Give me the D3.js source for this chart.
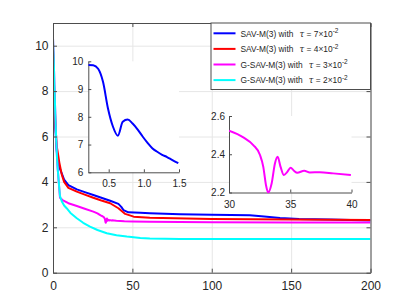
<!DOCTYPE html>
<html lang="en">
<head>
<meta charset="utf-8">
<title>Energy decay</title>
<script src="https://cdn.jsdelivr.net/npm/d3@7"></script>
<style>
  body { margin: 0; background: #fff; }
  svg { display: block; font-family: "Liberation Sans", Arial, sans-serif; }
  .tick text { fill: #262626; }
  .grid line { stroke: #e6e6e6; stroke-width: 1; }
  .grid path { display: none; }
</style>
</head>
<body>
<script>
// main plot: energy vs time
var blueT = [0, 0.5, 0.7, 1, 1.5, 2.3, 3, 4, 5.5, 7, 9.7, 15, 20, 25.4, 30, 36, 41.2, 43, 44.4, 47.5, 55, 61, 80, 100, 124, 133, 143, 155, 175, 200];
var blueE = [9.87, 8.2, 7.85, 7.3, 6.35, 5.4, 5.0, 4.65, 4.38, 4.1, 3.86, 3.67, 3.55, 3.42, 3.31, 3.17, 3.03, 2.9, 2.76, 2.66, 2.64, 2.62, 2.58, 2.55, 2.53, 2.48, 2.41, 2.37, 2.34, 2.30];

var redT = [0, 0.5, 1, 1.5, 2.3, 3, 4, 5.5, 7, 9.7, 15, 20, 25.4, 30, 36, 41.2, 45.5, 50.8, 61, 100, 150, 200];
var redE = [9.9, 8.6, 7.5, 6.6, 5.6, 5.3, 4.85, 4.33, 4.0, 3.74, 3.57, 3.44, 3.30, 3.19, 3.06, 2.84, 2.59, 2.47, 2.42, 2.37, 2.34, 2.32];

var magT = [0, 0.5, 1, 1.5, 2, 2.5, 3, 3.5, 4.4, 6, 9.7, 15, 20, 25.4, 28, 45, 50, 61, 80, 100, 150, 200];
var magE = [10.35, 9.3, 8.0, 6.9, 5.9, 5.1, 4.55, 4.1, 3.3, 3.2, 3.06, 2.94, 2.82, 2.69, 2.61, 2.27, 2.26, 2.24, 2.23, 2.22, 2.215, 2.21];

var cyanT = [0, 0.5, 1, 1.5, 2, 2.5, 3, 3.5, 4.4, 5.5, 7, 8.6, 11, 15, 19, 23.3, 28, 33.9, 40, 46.5, 55, 61, 80, 100, 200];
var cyanE = [10.35, 9.3, 8.0, 6.9, 5.9, 5.1, 4.55, 4.1, 3.38, 3.15, 2.96, 2.84, 2.63, 2.40, 2.2, 2.03, 1.88, 1.74, 1.65, 1.59, 1.53, 1.51, 1.49, 1.48, 1.48];

// inset 1: blue, early times
var in1T = [0.21, 0.28, 0.35, 0.42, 0.49, 0.56, 0.63, 0.70, 0.77, 0.84, 0.91, 0.98, 1.05, 1.12, 1.19, 1.26, 1.33, 1.40, 1.49];
var in1E = [9.87, 9.86, 9.73, 9.25, 8.3, 7.65, 7.32, 7.82, 7.9, 7.76, 7.55, 7.30, 7.07, 6.87, 6.74, 6.63, 6.55, 6.45, 6.33];

// inset 2: magenta, t in [30, 40]
var in2T = [30, 31.17, 31.98, 32.53, 32.8, 33.02, 33.2, 33.48, 33.75, 33.97, 34.21, 34.48, 34.76, 35.03, 35.3, 35.57, 36.14, 36.6, 37.42, 38.5, 39.95];
var in2E = [2.523, 2.488, 2.448, 2.396, 2.334, 2.238, 2.2, 2.247, 2.352, 2.387, 2.334, 2.291, 2.308, 2.329, 2.314, 2.303, 2.314, 2.305, 2.306, 2.3, 2.291];

var legendLabels = [
  {pre: "SAV-M(3) with", num: "7"},
  {pre: "SAV-M(3) with", num: "4"},
  {pre: "G-SAV-M(3) with", num: "3"},
  {pre: "G-SAV-M(3) with", num: "2"}
];
var colors = ["#0000ff", "#ff0000", "#ff00ff", "#00ffff"];

var mainTicksX = [0, 50, 100, 150, 200];
var mainTicksY = [0, 2, 4, 6, 8, 10];
var in1TicksX = [0.5, 1, 1.5];
var in1TicksY = [6, 7, 8, 9, 10];
var in2TicksX = [30, 35, 40];
var in2TicksY = [2.2, 2.4, 2.6];

function zip(a, b) { return a.map(function(d, i) { return [d, b[i]]; }); }

// magenta in main plot = outer pieces + inset piece
var magMain = zip(magT, magE).concat(zip(in2T, in2E)).sort(function(a, b) { return a[0] - b[0]; });

var svg = d3.select("body").append("svg").attr("width", 409).attr("height", 307);

var L = 53, R = 370.5, T = 23, B = 272.7;
var x = d3.scaleLinear().domain([0, 200]).range([L, R]);
var y = d3.scaleLinear().domain([0, 11]).range([B, T]);

// grid
svg.append("g").attr("class", "grid").attr("transform", "translate(0," + B + ")")
  .call(d3.axisBottom(x).tickValues(mainTicksX).tickSize(-(B - T)).tickFormat(""));
svg.append("g").attr("class", "grid").attr("transform", "translate(" + L + ",0)")
  .call(d3.axisLeft(y).tickValues(mainTicksY).tickSize(-(R - L)).tickFormat(""));

svg.append("defs").append("clipPath").attr("id", "clipMain")
  .append("rect").attr("x", L).attr("y", T).attr("width", R - L).attr("height", B - T);

var line = d3.line().x(function(d) { return x(d[0]); }).y(function(d) { return y(d[1]); });
var series = [zip(blueT, blueE), zip(redT, redE), magMain, zip(cyanT, cyanE)];
var gl = svg.append("g").attr("clip-path", "url(#clipMain)");
series.forEach(function(s, i) {
  gl.append("path").datum(s).attr("d", line)
    .attr("fill", "none").attr("stroke", colors[i]).attr("stroke-width", 2)
    .attr("stroke-linejoin", "round");
});

// axes, ticks inward, box on
var axCol = "#4d4d4d";
function styleAxis(g, fs) {
  g.select(".domain").attr("stroke", axCol);
  g.selectAll(".tick line").attr("stroke", axCol);
  g.selectAll(".tick text").attr("font-size", fs);
}
svg.append("g").attr("transform", "translate(0," + B + ")")
  .call(d3.axisBottom(x).tickValues(mainTicksX).tickSizeInner(-4).tickSizeOuter(0).tickPadding(9))
  .call(styleAxis, 12);
svg.append("g").attr("transform", "translate(" + L + ",0)")
  .call(d3.axisLeft(y).tickValues(mainTicksY).tickSizeInner(-4).tickSizeOuter(0).tickPadding(4.5))
  .call(styleAxis, 12);
svg.append("g").attr("transform", "translate(0," + T + ")")
  .call(d3.axisTop(x).tickValues(mainTicksX).tickSizeInner(-4).tickSizeOuter(0).tickFormat(""))
  .call(styleAxis, 12);
svg.append("g").attr("transform", "translate(" + R + ",0)")
  .call(d3.axisRight(y).tickValues(mainTicksY).tickSizeInner(-4).tickSizeOuter(0).tickFormat(""))
  .call(styleAxis, 12);

// legend
var leg = svg.append("g");
leg.append("rect").attr("x", 211).attr("y", T).attr("width", R - 211).attr("height", 66.5)
  .attr("fill", "#fff").attr("stroke", axCol).attr("stroke-width", 1);
legendLabels.forEach(function(d, i) {
  var cy = 33.3 + i * 15.6;
  leg.append("line").attr("x1", 213.5).attr("x2", 235.5).attr("y1", cy).attr("y2", cy)
    .attr("stroke", colors[i]).attr("stroke-width", 2);
  var t = leg.append("text").attr("x", 240.5).attr("y", cy + 3.2)
    .attr("font-size", 8.4).attr("fill", "#262626");
  t.append("tspan").text(d.pre);
  t.append("tspan").attr("dx", 6).attr("font-style", "italic")
    .attr("font-family", "'DejaVu Serif', serif").text("\u03c4");
  t.append("tspan").attr("dx", 2.5).text("= " + d.num + "\u00d710");
  t.append("tspan").attr("dy", -3.5).attr("font-size", 6.5).text("-2");
});

// insets
function inset(cfg) {
  var g = svg.append("g");
  var xs = d3.scaleLinear().domain(cfg.xd).range([cfg.l, cfg.r]);
  var ys = d3.scaleLinear().domain(cfg.yd).range([cfg.b, cfg.t]);
  g.append("rect").attr("x", cfg.l).attr("y", cfg.t).attr("width", cfg.r - cfg.l).attr("height", cfg.b - cfg.t)
    .attr("fill", "#fff");
  g.append("clipPath").attr("id", cfg.id).append("rect")
    .attr("x", cfg.l).attr("y", cfg.t - 1).attr("width", cfg.r - cfg.l).attr("height", cfg.b - cfg.t + 2);
  g.append("g").attr("transform", "translate(0," + cfg.b + ")")
    .call(d3.axisBottom(xs).tickValues(cfg.tx).tickSizeInner(-3).tickSizeOuter(0).tickPadding(cfg.px))
    .call(styleAxis, 10);
  g.append("g").attr("transform", "translate(" + cfg.l + ",0)")
    .call(d3.axisLeft(ys).tickValues(cfg.ty).tickSizeInner(-3).tickSizeOuter(0).tickPadding(cfg.py)
      .tickFormat(cfg.fmt))
    .call(styleAxis, 10);
  var ln = d3.line().x(function(d) { return xs(d[0]); }).y(function(d) { return ys(d[1]); })
    .curve(d3.curveMonotoneX);
  g.append("path").datum(cfg.data).attr("d", ln).attr("clip-path", "url(#" + cfg.id + ")")
    .attr("fill", "none").attr("stroke", cfg.color).attr("stroke-width", 2)
    .attr("stroke-linejoin", "round");
}

inset({id: "c1", l: 88.3, r: 179, t: 61.3, b: 172.3, xd: [0.21, 1.5], yd: [6, 10], px: 7.5, py: 5,
  tx: in1TicksX, ty: in1TicksY, fmt: d3.format("d"), data: zip(in1T, in1E), color: colors[0]});
inset({id: "c2", l: 229, r: 351.5, t: 116, b: 192.5, xd: [30, 40], yd: [2.2, 2.6], px: 8, py: 4,
  tx: in2TicksX, ty: in2TicksY, fmt: d3.format(".1f"), data: zip(in2T, in2E), color: colors[2]});
</script>
</body>
</html>
